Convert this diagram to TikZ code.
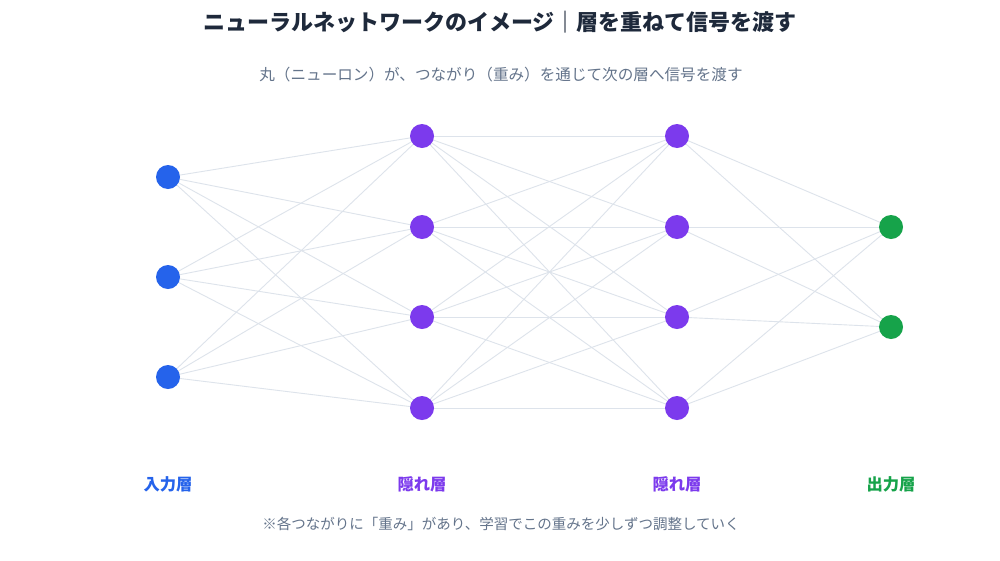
\documentclass[tikz,border=0pt]{standalone}
\usepackage{fontspec}
\setmainfont{Noto Sans CJK JP}
\definecolor{titlec}{HTML}{1E293B}
\definecolor{subc}{HTML}{64748B}
\definecolor{edgec}{HTML}{DDE3EB}
\definecolor{inc}{HTML}{2563EB}
\definecolor{hidc}{HTML}{7C3AED}
\definecolor{outc}{HTML}{16A34A}
\begin{document}
\begin{tikzpicture}[x=1pt,y=-1pt,
  neuron/.style={circle,inner sep=0pt,minimum size=24pt},
  innode/.style={neuron,fill=inc},
  hidnode/.style={neuron,fill=hidc},
  outnode/.style={neuron,fill=outc},
  wire/.style={draw=edgec,line width=0.9pt},
  layerlabel/.style={font=\fontsize{16.3}{19}\selectfont\bfseries},
  ]
\useasboundingbox[fill=white] (0,0) rectangle (1000,560);
\node[font=\fontsize{22}{26}\selectfont\bfseries,text=titlec] (title) at (500,22) {ニューラルネットワークのイメージ｜層を重ねて信号を渡す};
\node[font=\fontsize{15.6}{18}\selectfont,text=subc] (sub) at (501,75) {丸（ニューロン）が、つながり（重み）を通じて次の層へ信号を渡す};
% nodes
\foreach \i/\y in {1/177,2/277,3/377} \coordinate (ic\i) at (168,\y);
\foreach \i/\y in {1/136,2/227,3/317,4/408} \coordinate (ac\i) at (422,\y);
\foreach \i/\y in {1/136,2/227,3/317,4/408} \coordinate (bc\i) at (677,\y);
\foreach \i/\y in {1/227,2/327} \coordinate (oc\i) at (891,\y);
% edges
\foreach \i in {1,2,3} \foreach \j in {1,2,3,4} \draw[wire] (ic\i) -- (ac\j);
\foreach \i in {1,2,3,4} \foreach \j in {1,2,3,4} \draw[wire] (ac\i) -- (bc\j);
\foreach \i in {1,2,3,4} \foreach \j in {1,2} \draw[wire] (bc\i) -- (oc\j);
\foreach \i in {1,2,3} \node[innode] (i\i) at (ic\i) {};
\foreach \i in {1,2,3,4} \node[hidnode] (a\i) at (ac\i) {};
\foreach \i in {1,2,3,4} \node[hidnode] (b\i) at (bc\i) {};
\foreach \i in {1,2} \node[outnode] (o\i) at (oc\i) {};
% labels
\node[layerlabel,text=inc] (l1) at (168,484) {入力層};
\node[layerlabel,text=hidc] (l2) at (422,484) {隠れ層};
\node[layerlabel,text=hidc] (l3) at (677,484) {隠れ層};
\node[layerlabel,text=outc] (l4) at (891,484) {出力層};
\node[font=\fontsize{14.5}{17}\selectfont,text=subc] (foot) at (501,524) {※各つながりに「重み」があり、学習でこの重みを少しずつ調整していく};
\end{tikzpicture}
\end{document}
